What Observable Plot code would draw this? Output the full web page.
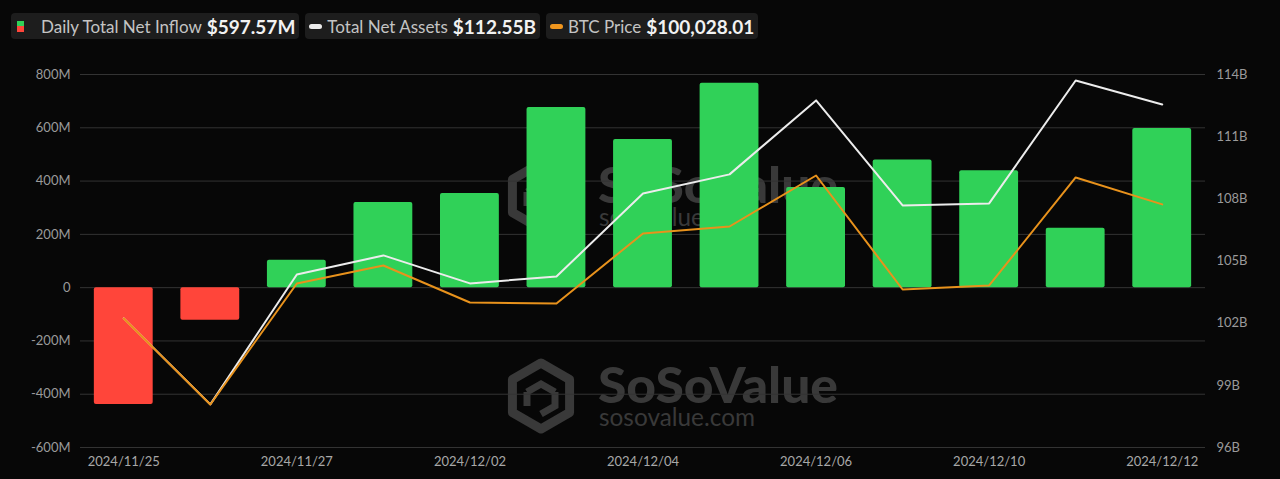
<!DOCTYPE html>
<html>
<head>
<meta charset="utf-8">
<script src="https://cdn.jsdelivr.net/npm/d3@7"></script>
<script src="https://cdn.jsdelivr.net/npm/@observablehq/plot@0.6"></script>
<style>
  html, body { margin: 0; padding: 0; background: #070707; width: 1280px; height: 479px; overflow: hidden; font-family: Lato, sans-serif; }
  #wm { position: absolute; left: 0; top: 0; z-index: 0; }
  #chart { position: absolute; left: 0; top: 50px; z-index: 1; }
  #legend { position: absolute; left: 11px; top: 13px; z-index: 2; display: flex; gap: 6px; }
  .item { height: 26px; background: #1d1d1d; border-radius: 4px; display: flex; align-items: center; padding: 0 4px 0 4px; }
  .lab { color: #c4c4c4; font-size: 17px; margin-right: 5px; }
  .val { color: #f2f2f2; font-size: 19px; font-weight: 700; }
  .sq { width: 7px; height: 11px; margin: 0 17px 0 2px; background: linear-gradient(#30d158 50%, #ff453a 50%); }
  .dash { width: 13px; height: 5px; border-radius: 3px; margin-right: 5px; }
</style>
</head>
<body>
<svg id="wm" width="1280" height="479"></svg>
<div id="legend"></div>
<div id="chart"></div>
<script>
const dates = ["2024/11/25","2024/11/26","2024/11/27","2024/11/29","2024/12/02","2024/12/03","2024/12/04","2024/12/05","2024/12/06","2024/12/09","2024/12/10","2024/12/11","2024/12/12"];
const netInflowM = [-438.4, -122.8, 103.1, 320.0, 353.6, 676.1, 556.0, 766.7, 375.7, 479.0, 438.5, 223.1, 597.57];
const totalNetAssetsB = [102.23, 98.08, 104.35, 105.27, 103.92, 104.25, 108.26, 109.18, 112.75, 107.68, 107.78, 113.71, 112.55];
const btcPrice = [95134, 91445, 96635, 97407, 95820, 95777, 98780, 99080, 101268, 96378, 96550, 101182, 100028.01];
const leftTicks = [-600, -400, -200, 0, 200, 400, 600, 800];
const rightTicks = [96, 99, 102, 105, 108, 111, 114];
const xTickLabels = ["2024/11/25","2024/11/27","2024/12/02","2024/12/04","2024/12/06","2024/12/10","2024/12/12"];
const legendItems = [
  {label: "Daily Total Net Inflow", value: "$597.57M", kind: "sq"},
  {label: "Total Net Assets", value: "$112.55B", kind: "dash", color: "#ececec"},
  {label: "BTC Price", value: "$100,028.01", kind: "dash", color: "#f0961e"}
];

const data = dates.map((d, i) => ({date: d, inflow: netInflowM[i], assets: totalNetAssetsB[i], btc: btcPrice[i]}));
const assetsToLeft = d3.scaleLinear([96, 114], [-600, 800]);
const btcToLeft = d3.scaleLinear([89600, 105600], [-600, 800]);

// legend
const lg = d3.select("#legend");
legendItems.forEach(it => {
  const div = lg.append("div").attr("class", "item");
  if (it.kind === "sq") div.append("div").attr("class", "sq");
  else div.append("div").attr("class", "dash").style("background", it.color);
  div.append("span").attr("class", "lab").text(it.label);
  div.append("span").attr("class", "val").text(it.value);
});

// watermark
const wm = d3.select("#wm");
[196, 396].forEach(cy => {
  const g = wm.append("g").attr("fill", "none").attr("stroke", "#393939");
  const cx = 541, r = 33;
  const pts = d3.range(6).map(k => { const a = Math.PI / 180 * (60 * k - 90); return [cx + r * Math.cos(a), cy + r * Math.sin(a)]; });
  g.append("polygon").attr("points", pts.map(p => p.join(",")).join(" ")).attr("stroke-width", 9).attr("stroke-linejoin", "round");
  g.append("path").attr("d", `M${cx-14},${cy-4} L${cx},${cy-12} L${cx+14},${cy-4} M${cx-14},${cy-4} L${cx-14},${cy+10} M${cx+14},${cy-4} L${cx+14},${cy+10} L${cx},${cy+18}`).attr("stroke-width", 7);
  wm.append("text").attr("x", 598).attr("y", cy + 7).attr("fill", "#393939").attr("font-family", "Lato").attr("font-weight", 900).attr("font-size", 50).attr("textLength", 240).attr("lengthAdjust", "spacingAndGlyphs").text("SoSoValue");
  wm.append("text").attr("x", 599).attr("y", cy + 30).attr("fill", "#393939").attr("font-family", "Lato").attr("font-size", 25).attr("textLength", 156).attr("lengthAdjust", "spacingAndGlyphs").text("sosovalue.com");
});

const chart = Plot.plot({
  width: 1280,
  height: 429,
  marginTop: 24,
  marginBottom: 32,
  marginLeft: 80,
  marginRight: 75,
  style: {background: "transparent", color: "#9a9a9a", fontFamily: "Lato, sans-serif", fontSize: "13px"},
  x: {type: "band", domain: dates, paddingInner: 0.32, paddingOuter: 0.16, round: false, label: null, axis: null},
  y: {domain: [-600, 800], label: null, axis: null},
  color: {type: "identity"},
  marks: [
    Plot.ruleY(leftTicks, {stroke: "#333333", strokeWidth: 1}),
    Plot.barY(data, {x: "date", y: "inflow", fill: d => d.inflow >= 0 ? "#30d158" : "#ff453a", rx: 2}),
    Plot.lineY(data, {x: "date", y: d => assetsToLeft(d.assets), stroke: "#ececec", strokeWidth: 2}),
    Plot.lineY(data, {x: "date", y: d => btcToLeft(d.btc), stroke: "#e8921c", strokeWidth: 2}),
    Plot.axisY({ticks: leftTicks, anchor: "left", tickSize: 0, tickPadding: 10, tickFormat: v => v === 0 ? "0" : `${v}M`, label: null, fill: "#9a9a9a"}),
    Plot.axisY({ticks: rightTicks.map(v => assetsToLeft(v)), anchor: "right", tickSize: 0, tickPadding: 11, tickFormat: v => `${Math.round(assetsToLeft.invert(v))}B`, label: null, fill: "#9a9a9a"}),
    Plot.axisX({ticks: xTickLabels, anchor: "bottom", tickSize: 0, tickPadding: 9, label: null, fill: "#a8a8a8"})
  ]
});
document.getElementById("chart").appendChild(chart);
</script>
</body>
</html>
